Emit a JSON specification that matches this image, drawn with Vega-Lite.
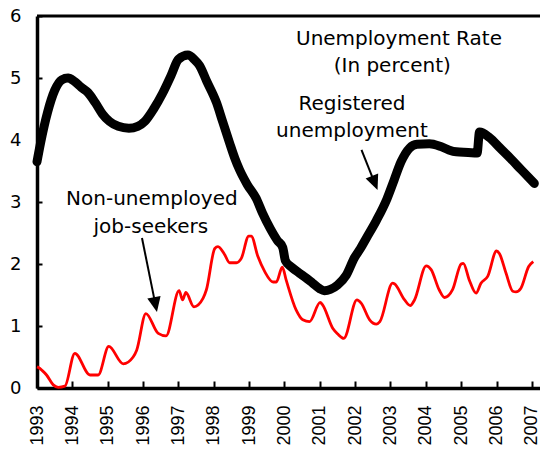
{
  "$schema": "https://vega.github.io/schema/vega-lite/v6.json",
  "width": 503,
  "height": 372,
  "autosize": {"type": "none"},
  "padding": {"left": 37, "top": 16, "right": 0, "bottom": 63},
  "background": "white",
  "config": {
    "view": {"stroke": null},
    "font": "DejaVu Sans",
    "axis": {"labelOverlap": false, "labelFlush": false, "grid": false, "title": null}
  },
  "datasets": {
    "reg": [
      {"year": 1993.0, "value": 3.65}, {"year": 1993.1, "value": 3.95}, {"year": 1993.3, "value": 4.45},
      {"year": 1993.5, "value": 4.8}, {"year": 1993.7, "value": 4.97}, {"year": 1993.88, "value": 5.0},
      {"year": 1994.05, "value": 4.95}, {"year": 1994.25, "value": 4.85}, {"year": 1994.45, "value": 4.76},
      {"year": 1994.65, "value": 4.6}, {"year": 1994.85, "value": 4.42}, {"year": 1995.05, "value": 4.3},
      {"year": 1995.3, "value": 4.22}, {"year": 1995.6, "value": 4.19}, {"year": 1995.85, "value": 4.22},
      {"year": 1996.05, "value": 4.3}, {"year": 1996.3, "value": 4.5}, {"year": 1996.55, "value": 4.75},
      {"year": 1996.8, "value": 5.05}, {"year": 1997.0, "value": 5.3}, {"year": 1997.27, "value": 5.37},
      {"year": 1997.45, "value": 5.3}, {"year": 1997.6, "value": 5.2}, {"year": 1997.8, "value": 4.95},
      {"year": 1998.08, "value": 4.6}, {"year": 1998.25, "value": 4.3}, {"year": 1998.45, "value": 3.95},
      {"year": 1998.6, "value": 3.7}, {"year": 1998.73, "value": 3.52}, {"year": 1998.95, "value": 3.28},
      {"year": 1999.2, "value": 3.06}, {"year": 1999.38, "value": 2.82}, {"year": 1999.6, "value": 2.57},
      {"year": 1999.8, "value": 2.38}, {"year": 1999.95, "value": 2.27}, {"year": 2000.03, "value": 2.05},
      {"year": 2000.2, "value": 1.95}, {"year": 2000.43, "value": 1.85}, {"year": 2000.6, "value": 1.78},
      {"year": 2000.8, "value": 1.69}, {"year": 2001.0, "value": 1.6}, {"year": 2001.13, "value": 1.57},
      {"year": 2001.3, "value": 1.59}, {"year": 2001.5, "value": 1.66}, {"year": 2001.75, "value": 1.82},
      {"year": 2001.98, "value": 2.1}, {"year": 2002.15, "value": 2.25}, {"year": 2002.32, "value": 2.42},
      {"year": 2002.6, "value": 2.7}, {"year": 2002.9, "value": 3.05}, {"year": 2003.1, "value": 3.35},
      {"year": 2003.3, "value": 3.65}, {"year": 2003.54, "value": 3.87}, {"year": 2003.75, "value": 3.93},
      {"year": 2004.1, "value": 3.94}, {"year": 2004.4, "value": 3.9}, {"year": 2004.65, "value": 3.84},
      {"year": 2004.86, "value": 3.81}, {"year": 2005.2, "value": 3.8}, {"year": 2005.45, "value": 3.79},
      {"year": 2005.52, "value": 4.13}, {"year": 2005.8, "value": 4.04}, {"year": 2006.1, "value": 3.87},
      {"year": 2006.4, "value": 3.7}, {"year": 2006.7, "value": 3.52}, {"year": 2007.07, "value": 3.3}
    ],
    "seek": [
      {"year": 1993.0, "value": 0.34}, {"year": 1993.04, "value": 0.33}, {"year": 1993.15, "value": 0.28},
      {"year": 1993.27, "value": 0.21}, {"year": 1993.46, "value": 0.05}, {"year": 1993.6, "value": 0.01},
      {"year": 1993.79, "value": 0.03}, {"year": 1994.07, "value": 0.56}, {"year": 1994.5, "value": 0.21},
      {"year": 1994.73, "value": 0.21}, {"year": 1995.03, "value": 0.67}, {"year": 1995.44, "value": 0.39},
      {"year": 1995.72, "value": 0.5}, {"year": 1995.82, "value": 0.61}, {"year": 1996.08, "value": 1.2},
      {"year": 1996.43, "value": 0.88}, {"year": 1996.65, "value": 0.84}, {"year": 1997.02, "value": 1.57},
      {"year": 1997.12, "value": 1.42}, {"year": 1997.21, "value": 1.54}, {"year": 1997.44, "value": 1.31},
      {"year": 1997.7, "value": 1.45}, {"year": 1997.79, "value": 1.58}, {"year": 1998.03, "value": 2.25},
      {"year": 1998.12, "value": 2.28}, {"year": 1998.31, "value": 2.15}, {"year": 1998.45, "value": 2.02},
      {"year": 1998.64, "value": 2.02}, {"year": 1998.78, "value": 2.09}, {"year": 1998.99, "value": 2.45},
      {"year": 1999.06, "value": 2.45}, {"year": 1999.25, "value": 2.12}, {"year": 1999.44, "value": 1.88},
      {"year": 1999.68, "value": 1.71}, {"year": 1999.77, "value": 1.71}, {"year": 1999.94, "value": 1.95},
      {"year": 2000.05, "value": 1.74}, {"year": 2000.33, "value": 1.26}, {"year": 2000.52, "value": 1.1},
      {"year": 2000.71, "value": 1.07}, {"year": 2001.01, "value": 1.38}, {"year": 2001.08, "value": 1.34},
      {"year": 2001.37, "value": 0.96}, {"year": 2001.51, "value": 0.87}, {"year": 2001.68, "value": 0.8},
      {"year": 2002.05, "value": 1.42}, {"year": 2002.17, "value": 1.37}, {"year": 2002.41, "value": 1.1},
      {"year": 2002.6, "value": 1.03}, {"year": 2002.7, "value": 1.07}, {"year": 2003.06, "value": 1.69},
      {"year": 2003.11, "value": 1.68}, {"year": 2003.4, "value": 1.42}, {"year": 2003.56, "value": 1.33},
      {"year": 2003.68, "value": 1.42}, {"year": 2004.01, "value": 1.97}, {"year": 2004.15, "value": 1.91},
      {"year": 2004.38, "value": 1.58}, {"year": 2004.53, "value": 1.46}, {"year": 2004.76, "value": 1.59},
      {"year": 2005.0, "value": 2.0}, {"year": 2005.06, "value": 2.01}, {"year": 2005.23, "value": 1.74},
      {"year": 2005.42, "value": 1.53}, {"year": 2005.56, "value": 1.69}, {"year": 2005.75, "value": 1.8},
      {"year": 2006.0, "value": 2.21}, {"year": 2006.08, "value": 2.17}, {"year": 2006.27, "value": 1.85},
      {"year": 2006.46, "value": 1.56}, {"year": 2006.55, "value": 1.55}, {"year": 2006.69, "value": 1.61},
      {"year": 2006.91, "value": 1.96}, {"year": 2007.04, "value": 2.04}
    ],
    "labels": [
      {"x": 2003.24, "y": 5.53, "text": "Unemployment Rate"},
      {"x": 2003.05, "y": 5.1, "text": "(In percent)"},
      {"x": 2001.91, "y": 4.48, "text": "Registered"},
      {"x": 2001.91, "y": 4.05, "text": "unemployment"},
      {"x": 1996.25, "y": 2.95, "text": "Non-unemployed"},
      {"x": 1996.22, "y": 2.5, "text": "job-seekers"}
    ],
    "arrows": [
      {"x": 2002.18, "y": 3.84, "x2": 2002.554, "y2": 3.306, "angle": 158},
      {"x": 1995.97, "y": 2.42, "x2": 1996.351, "y2": 1.345, "angle": 168.5}
    ],
    "frame": [{"top": 6}]
  },
  "layer": [
    {
      "data": {"name": "seek"},
      "mark": {"type": "line", "color": "#ff0000", "strokeWidth": 2.8, "interpolate": "monotone"},
      "encoding": {
        "x": {
          "field": "year", "type": "quantitative",
          "scale": {"domain": [1993, 2007.23], "nice": false, "zero": false},
          "axis": {
            "title": null, "values": [1993,1994,1995,1996,1997,1998,1999,2000,2001,2002,2003,2004,2005,2006,2007],
            "tickCount": 30,
            "format": "d", "labelAngle": -90, "labelFont": "Liberation Sans", "labelFontSize": 18,
            "labelColor": "black", "tickColor": "black", "tickSize": -7, "tickWidth": 2,
            "domainColor": "black", "domainWidth": 3.5, "grid": false, "labelPadding": 24,
            "labelOverlap": false, "labelFlush": false
          }
        },
        "y": {
          "field": "value", "type": "quantitative",
          "scale": {"domain": [0, 6], "nice": false},
          "axis": {
            "title": null, "values": [0,1,2,3,4,5,6], "tickCount": 10, "format": "d", "labelFont": "DejaVu Sans", "labelFontSize": 18,
            "labelColor": "black", "tickColor": "black", "tickSize": -5, "tickWidth": 2,
            "domainColor": "black", "domainWidth": 3.5, "grid": false, "labelPadding": 21,
            "labelOverlap": false, "labelFlush": false
          }
        }
      }
    },
    {
      "data": {"name": "reg"},
      "mark": {"type": "line", "color": "black", "strokeWidth": 9, "interpolate": "monotone", "strokeCap": "round", "strokeJoin": "round"},
      "encoding": {
        "x": {"field": "year", "type": "quantitative"},
        "y": {"field": "value", "type": "quantitative"}
      }
    },
    {
      "data": {"name": "frame"},
      "mark": {"type": "rule", "color": "black", "strokeWidth": 3},
      "encoding": {"y": {"field": "top", "type": "quantitative"}}
    },
    {
      "data": {"name": "arrows"},
      "mark": {"type": "rule", "color": "black", "strokeWidth": 2},
      "encoding": {
        "x": {"field": "x", "type": "quantitative"},
        "y": {"field": "y", "type": "quantitative"},
        "x2": {"field": "x2"},
        "y2": {"field": "y2"}
      }
    },
    {
      "data": {"name": "arrows"},
      "mark": {"type": "point", "shape": "M0,-1L0.9,1L-0.9,1Z", "filled": true, "color": "black", "opacity": 1, "size": 225},
      "encoding": {
        "x": {"field": "x2", "type": "quantitative"},
        "y": {"field": "y2", "type": "quantitative"},
        "angle": {"field": "angle", "type": "quantitative", "scale": null}
      }
    },
    {
      "data": {"name": "labels"},
      "mark": {"type": "text", "font": "DejaVu Sans", "fontSize": 20, "align": "center", "baseline": "alphabetic", "color": "black"},
      "encoding": {
        "x": {"field": "x", "type": "quantitative"},
        "y": {"field": "y", "type": "quantitative"},
        "text": {"field": "text"}
      }
    }
  ]
}
